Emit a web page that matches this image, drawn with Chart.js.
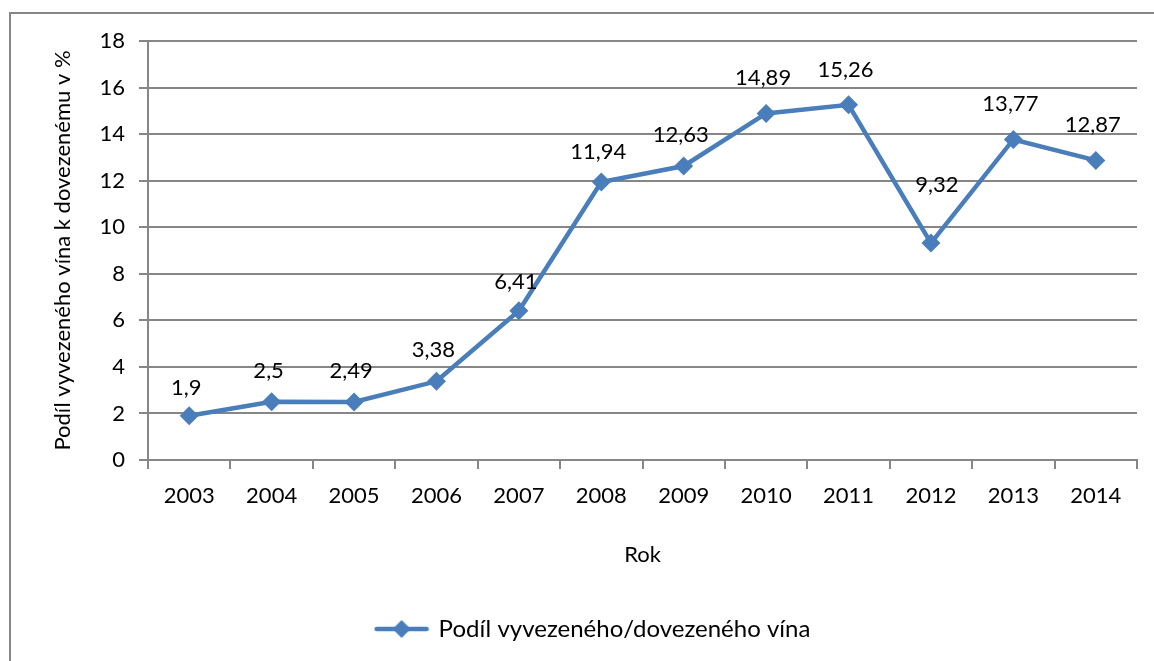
<!DOCTYPE html>
<html>
<head>
<meta charset="utf-8">
<script src="https://cdn.jsdelivr.net/npm/chart.js@4.4.0/dist/chart.umd.min.js"></script>
<style>
  html, body { margin: 0; padding: 0; background: #fff; }
  #wrap { width: 1154px; height: 661px; position: relative; }
</style>
</head>
<body>
<div id="wrap"><canvas id="chart" width="1154" height="661"></canvas></div>
<script>
// Data
const years = ['2003', '2004', '2005', '2006', '2007', '2008', '2009', '2010', '2011', '2012', '2013', '2014'];
const shareValues = [1.9, 2.5, 2.49, 3.38, 6.41, 11.94, 12.63, 14.89, 15.26, 9.32, 13.77, 12.87];
const seriesName = 'Podíl vyvezeného/dovezeného vína';
const yTitle = 'Podíl vyvezeného vína k dovezenému v %';
const xTitle = 'Rok';

const FONT = 'Lato, "Open Sans", sans-serif';
const BLUE = '#4a7ebb';
const GRID = '#868686';

// legend symbol: line with diamond
function legendSymbol() {
    const c = document.createElement('canvas');
    c.width = 56; c.height = 22;
    const g = c.getContext('2d');
    g.strokeStyle = BLUE;
    g.lineWidth = 4.5;
    g.lineCap = 'round';
    g.beginPath(); g.moveTo(3, 11); g.lineTo(53, 11); g.stroke();
    g.fillStyle = BLUE;
    g.beginPath(); g.moveTo(28, 2); g.lineTo(37, 11); g.lineTo(28, 20); g.lineTo(19, 11); g.closePath(); g.fill();
    return c;
}

// outer frame
const framePlugin = {
    id: 'frame',
    beforeDraw(chart) {
        const ctx = chart.ctx;
        ctx.save();
        ctx.strokeStyle = GRID;
        ctx.lineWidth = 2;
        ctx.strokeRect(10, 13, 1200, 700);
        ctx.restore();
    }
};

// value labels above the points
const labelOffsets = [28, 31, 31, 31, 29, 30, 31, 35, 35, 58, 36, 36];
const valueLabels = {
    id: 'valueLabels',
    afterDatasetsDraw(chart) {
        const ctx = chart.ctx;
        const meta = chart.getDatasetMeta(0);
        ctx.save();
        ctx.font = '22px ' + FONT;
        ctx.fillStyle = '#000';
        ctx.textAlign = 'center';
        ctx.textBaseline = 'middle';
        meta.data.forEach((pt, i) => {
            const txt = String(shareValues[i]).replace('.', ',');
            ctx.fillText(txt, pt.x + (i === 9 ? 6 : -3), pt.y - labelOffsets[i]);
        });
        ctx.restore();
    }
};

new Chart(document.getElementById('chart'), {
    type: 'line',
    data: {
        labels: years,
        datasets: [{
            label: seriesName,
            data: shareValues,
            borderColor: BLUE,
            backgroundColor: BLUE,
            borderWidth: 4.5,
            pointStyle: 'rectRot',
            pointRadius: 9.5,
            pointHoverRadius: 9.5,
            pointBackgroundColor: BLUE,
            pointBorderWidth: 0,
            tension: 0
        }]
    },
    options: {
        responsive: false,
        animation: false,
        layout: { padding: { left: 50, right: 17, top: 41, bottom: 10 } },
        plugins: {
            tooltip: { enabled: false },
            legend: {
                position: 'bottom',
                labels: {
                    font: { size: 24, family: FONT },
                    color: '#000',
                    usePointStyle: true,
                    pointStyleWidth: 50,
                    padding: 10,
                    generateLabels(chart) {
                        return [{
                            text: seriesName,
                            pointStyle: legendSymbol(),
                            fillStyle: BLUE,
                            strokeStyle: BLUE,
                            lineWidth: 0,
                            datasetIndex: 0
                        }];
                    }
                }
            }
        },
        scales: {
            x: {
                offset: true,
                grid: { display: true, drawOnChartArea: false, offset: true, tickLength: 9, color: GRID, lineWidth: 2 },
                border: { color: GRID, width: 2 },
                ticks: { color: '#000', font: { size: 22, family: FONT }, padding: 14, maxRotation: 0 },
                title: { display: true, text: xTitle, color: '#000', font: { size: 22, family: FONT }, padding: { top: 30, bottom: 39 } },
                afterFit(axis) { axis.height = 147; }
            },
            y: {
                min: 0,
                max: 18,
                ticks: { stepSize: 2, color: '#000', font: { size: 22, family: FONT }, padding: 14 },
                grid: { color: GRID, lineWidth: 2, tickLength: 9 },
                border: { color: GRID, width: 2 },
                title: { display: true, text: yTitle, color: '#000', font: { size: 22, family: FONT }, padding: { top: 0, bottom: 0 } },
                afterFit(axis) { axis.width = 98; }
            }
        }
    },
    plugins: [framePlugin, valueLabels]
});
</script>
</body>
</html>
